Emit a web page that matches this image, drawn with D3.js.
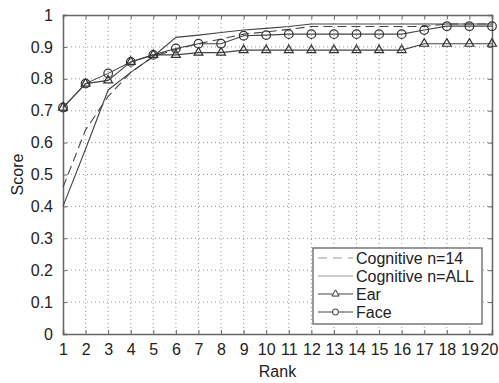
<!DOCTYPE html>
<html><head><meta charset="utf-8">
<script src="https://cdn.jsdelivr.net/npm/d3@7"></script>
<style>
html,body{margin:0;padding:0;background:#fff;}
svg{display:block;font-family:"Liberation Sans",Arial,sans-serif;}
</style></head>
<body>
<svg id="c" width="499" height="383"></svg>
<script>
const ranks = [1,2,3,4,5,6,7,8,9,10,11,12,13,14,15,16,17,18,19,20];
const yTicks = [0,0.1,0.2,0.3,0.4,0.5,0.6,0.7,0.8,0.9,1];
const yTickLabels = ["0","0.1","0.2","0.3","0.4","0.5","0.6","0.7","0.8","0.9","1"];
const cognitive14 = [0.46,0.64,0.745,0.82,0.87,0.892,0.91,0.925,0.94,0.947,0.955,0.964,0.964,0.964,0.964,0.964,0.964,0.972,0.972,0.972];
const cognitiveAll = [0.40,0.58,0.765,0.82,0.87,0.93,0.937,0.945,0.953,0.958,0.964,0.972,0.972,0.972,0.972,0.972,0.972,0.972,0.972,0.972];
const ear = [0.71,0.785,0.795,0.853,0.875,0.875,0.882,0.882,0.89,0.89,0.89,0.89,0.89,0.89,0.89,0.89,0.91,0.91,0.91,0.91];
const face = [0.71,0.785,0.817,0.853,0.875,0.895,0.91,0.91,0.935,0.937,0.94,0.94,0.94,0.94,0.94,0.94,0.953,0.965,0.965,0.965];
const legendLabels = ["Cognitive n=14","Cognitive n=ALL","Ear","Face"];

const L=63,R=492,T=15,B=334;
const svg=d3.select("#c");
const x=d3.scaleLinear().domain([1,20]).range([L,R]);
const y=d3.scaleLinear().domain([0,1]).range([B,T]);

// grid
const g=svg.append("g");
g.selectAll("line.vg").data(ranks.slice(1,-1)).join("line")
 .attr("x1",d=>x(d)).attr("x2",d=>x(d)).attr("y1",T).attr("y2",B)
 .attr("stroke","#999").attr("stroke-width",1).attr("stroke-dasharray","1,3");
g.selectAll("line.hg").data(yTicks.slice(1,-1)).join("line")
 .attr("y1",d=>y(d)).attr("y2",d=>y(d)).attr("x1",L).attr("x2",R)
 .attr("stroke","#999").attr("stroke-width",1).attr("stroke-dasharray","1,3");

// axes
const xAxis=d3.axisBottom(x).tickValues(ranks).tickFormat(d3.format("d")).tickSize(-4).tickPadding(10);
const yAxis=d3.axisLeft(y).tickValues(yTicks).tickFormat((d,i)=>yTickLabels[i]).tickSize(-4).tickPadding(10);
const xTop=d3.axisTop(x).tickValues(ranks).tickFormat("").tickSize(-4);
const yRight=d3.axisRight(y).tickValues(yTicks).tickFormat("").tickSize(-4);
function style(sel){
  sel.select(".domain").attr("stroke","#666").attr("stroke-width",1.5);
  sel.selectAll(".tick line").attr("stroke","#666");
  sel.selectAll("text").attr("fill","#222").style("font-size","16px").style("font-family","Liberation Sans, Arial, sans-serif");
}
const xg=svg.append("g").attr("transform",`translate(0,${B})`).call(xAxis).call(style);
xg.selectAll(".tick text").filter(d=>d===20).attr("dx",-3);
svg.append("g").attr("transform",`translate(${L},0)`).call(yAxis).call(style);
svg.append("g").attr("transform",`translate(0,${T})`).call(xTop).call(style);
svg.append("g").attr("transform",`translate(${R},0)`).call(yRight).call(style);

svg.append("text").attr("x",(L+R)/2).attr("y",377).attr("text-anchor","middle")
 .style("font-size","16px").attr("fill","#222").text("Rank");
svg.append("text").attr("transform",`translate(23,${(T+B)/2}) rotate(-90)`).attr("text-anchor","middle")
 .style("font-size","16px").attr("fill","#222").text("Score");

const line=d3.line().x((d,i)=>x(ranks[i])).y(d=>y(d));
const lc="#444";
svg.append("path").datum(cognitive14).attr("d",line).attr("fill","none").attr("stroke",lc).attr("stroke-width",1.1).attr("stroke-dasharray","9,5");
svg.append("path").datum(cognitiveAll).attr("d",line).attr("fill","none").attr("stroke",lc).attr("stroke-width",1.1);
svg.append("path").datum(ear).attr("d",line).attr("fill","none").attr("stroke",lc).attr("stroke-width",1.1);
svg.append("path").datum(face).attr("d",line).attr("fill","none").attr("stroke",lc).attr("stroke-width",1.1);

const tri=d3.symbol().type(d3.symbolTriangle).size(34);
svg.selectAll("path.ear").data(ear).join("path")
 .attr("transform",(d,i)=>`translate(${x(ranks[i])},${y(d)})`).attr("d",tri)
 .attr("fill","none").attr("stroke","#333").attr("stroke-width",1.2);
svg.selectAll("circle.face").data(face).join("circle")
 .attr("cx",(d,i)=>x(ranks[i])).attr("cy",d=>y(d)).attr("r",4.3)
 .attr("fill","none").attr("stroke","#333").attr("stroke-width",1.2);

// legend
const lg=svg.append("g");
lg.append("rect").attr("x",313).attr("y",248).attr("width",169).attr("height",76)
 .attr("fill","#fff").attr("stroke","#555").attr("stroke-width",1.2);
const rowsY=[258,276,294,312];
legendLabels.forEach((t,i)=>{
  const yy=rowsY[i];
  const ln=lg.append("line").attr("x1",318).attr("x2",353).attr("y1",yy).attr("y2",yy).attr("stroke",lc).attr("stroke-width",1);
  if(i===0) ln.attr("stroke","#999").attr("stroke-dasharray","9,6");
  if(i===1) ln.attr("stroke","#999");
  if(i===2) lg.append("path").attr("transform",`translate(335.5,${yy})`).attr("d",d3.symbol().type(d3.symbolTriangle).size(22)).attr("fill","#fff").attr("stroke","#333");
  if(i===3) lg.append("circle").attr("cx",335.5).attr("cy",yy).attr("r",3).attr("fill","#fff").attr("stroke","#333");
  lg.append("text").attr("x",356).attr("y",yy+5.5).style("font-size","16px").attr("fill","#222").text(t);
});
</script>
</body></html>
